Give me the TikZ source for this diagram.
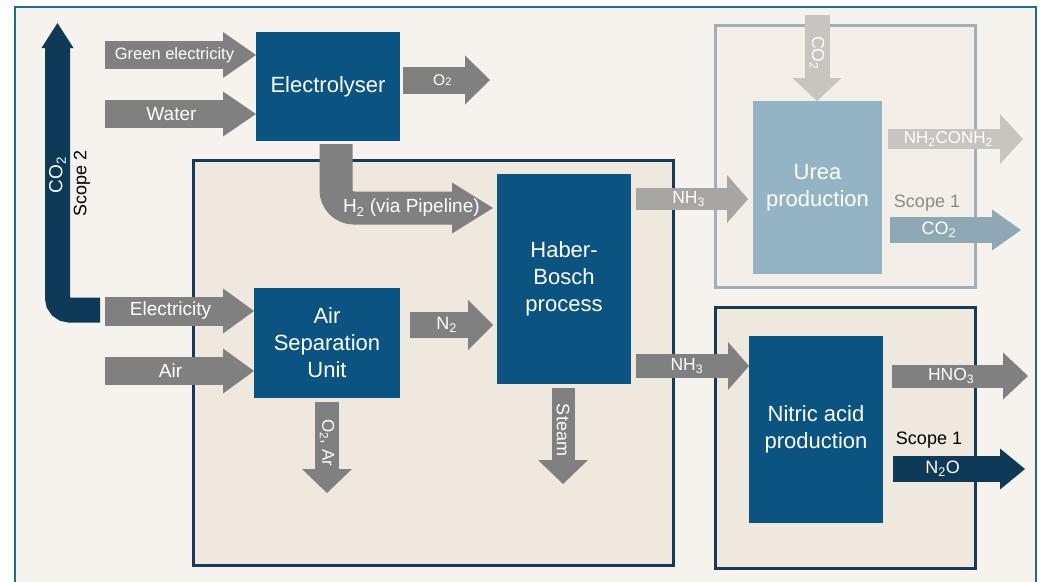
\documentclass[tikz,border=0pt]{standalone}
\usepackage{fontspec}
\setmainfont{Liberation Sans}
\usetikzlibrary{arrows.meta}

\definecolor{bgcream}{HTML}{F6F3EE}
\definecolor{zonecream}{HTML}{EFE8DE}
\definecolor{ureacream}{HTML}{F3EEE8}
\definecolor{procblue}{HTML}{0B5482}
\definecolor{navy}{HTML}{0E3A57}
\definecolor{framecol}{HTML}{1F6C8C}
\definecolor{zoneedge}{HTML}{163A58}
\definecolor{ureaedge}{HTML}{A0B0B8}
\definecolor{ureablue}{HTML}{94B3C4}
\definecolor{flowgray}{HTML}{808080}
\definecolor{nhgray}{HTML}{A8A6A2}
\definecolor{ureagray}{HTML}{C8C5C1}
\definecolor{ureaco}{HTML}{8FA8B6}
\definecolor{scopegray}{HTML}{8A8A8A}

\begin{document}
\begin{tikzpicture}[x=1pt, y=-1pt,
  every node/.style={inner sep=0pt, outer sep=0pt,
    font=\fontsize{18}{21}\selectfont},
  proc/.style={anchor=north west, fill=procblue, text=white, align=center,
    font=\fontsize{22}{27}\selectfont},
  zone/.style={anchor=north west, line width=3pt, draw=zoneedge, fill=zonecream},
  flow/.style n args={4}{draw=#1, line width=#2,
    -{Triangle[width=#3, length=#4, line width=0pt]}},
  lbl/.style={text=white},
  ]

  \useasboundingbox (0,0) rectangle (1057,581);
  \clip (0,0) rectangle (1057,581);
  \fill[white] (0,0) rectangle (1057,581);

  % frame and zones
  \node[anchor=north west, draw=framecol, line width=2pt, fill=bgcream,
    minimum width=1021pt, minimum height=600pt] (frame) at (15,7) {};
  \node[zone, minimum width=480pt, minimum height=405pt] (hbzone) at (193,160) {};
  \node[zone, draw=ureaedge, fill=ureacream, minimum width=260pt,
    minimum height=262pt] (ureazone) at (715,25) {};
  \node[zone, minimum width=260pt, minimum height=261pt] (nitriczone) at (715,307) {};

  % process boxes
  \node[proc, minimum width=144pt, minimum height=109pt] (elec) at (256,32) {Electrolyser};
  \node[proc, minimum width=146pt, minimum height=110pt] (asu) at (254,288) {Air\\Separation\\Unit};
  \node[proc, minimum width=134pt, minimum height=210pt] (hb) at (497,174) {Haber-\\Bosch\\process};
  \node[proc, fill=ureablue, minimum width=129pt, minimum height=173pt] (urea) at (753,101) {Urea\\production};
  \node[proc, minimum width=134pt, minimum height=187pt] (nitric) at (749,336) {Nitric acid\\production};

  % free ends
  \coordinate (greenin) at (105,55);
  \coordinate (waterin) at (105,114);
  \coordinate (o2out) at (490,80);
  \coordinate (h2start) at (336,144);
  \coordinate (h2end) at (493,208);
  \coordinate (co2s2start) at (100,310);
  \coordinate (co2s2end) at (57.5,23);
  \coordinate (elecin) at (105,311);
  \coordinate (airin) at (105,371);
  \coordinate (n2start) at (410,325);
  \coordinate (o2arout) at (327,493);
  \coordinate (steamout) at (563,484);
  \coordinate (nh3a) at (636,199);
  \coordinate (nh3b) at (636,366);
  \coordinate (co2in) at (817,15);
  \coordinate (ureaout) at (1023,139);
  \coordinate (co2out) at (1021,230);
  \coordinate (hno3out) at (1028,376);
  \coordinate (n2oout) at (1025,469);

  % inputs
  \draw[flow={flowgray}{28pt}{46pt}{33pt}] (greenin) -- (elec.west |- greenin)
    node[lbl, pos=.46, font=\fontsize{16.5}{18}\selectfont] {Green electricity};
  \draw[flow={flowgray}{28pt}{45pt}{33pt}] (waterin) -- (elec.west |- waterin)
    node[lbl, pos=.44, font=\fontsize{19}{21}\selectfont] {Water};
  \draw[flow={flowgray}{29pt}{45pt}{31pt}] (elecin) -- (asu.west |- elecin)
    node[lbl, pos=.44, font=\fontsize{19}{21}\selectfont] {Electricity};
  \draw[flow={flowgray}{28pt}{45pt}{31pt}] (airin) -- (asu.west |- airin)
    node[lbl, pos=.44, font=\fontsize{19}{21}\selectfont] {Air};

  % electrolyser
  \draw[flow={flowgray}{27pt}{49pt}{25pt}, shorten <=3pt] (elec.east |- o2out) -- (o2out)
    node[lbl, pos=.47, font=\fontsize{15.5}{17}\selectfont] {O{\fontsize{11}{12}\selectfont 2}};
  \draw[flow={flowgray}{33pt}{51pt}{41pt}, rounded corners=18pt] (h2start) |- (h2end)
    node[lbl, pos=.74, font=\fontsize{19}{21}\selectfont] {H\textsubscript{2} (via Pipeline)};

  % scope 2
  \draw[flow={navy}{25pt}{32pt}{25pt}, rounded corners=12pt] (co2s2start) -| (co2s2end)
    node[lbl, pos=.735, rotate=90, font=\fontsize{19}{21}\selectfont] {CO\textsubscript{2}};
  \node[rotate=90] (scope2) at (82,183) {Scope 2};

  % air separation and Haber-Bosch
  \draw[flow={flowgray}{26pt}{50pt}{25pt}, shorten >=4pt] (n2start) -- (hb.west |- n2start)
    node[lbl, pos=.42] {N\textsubscript{2}};
  \draw[flow={flowgray}{24pt}{50pt}{24pt}, shorten <=4pt] (asu.south -| o2arout) -- (o2arout)
    node[lbl, pos=.47, rotate=-90, font=\fontsize{17}{19}\selectfont] {O\textsubscript{2}, Ar};
  \draw[flow={flowgray}{23pt}{50pt}{24pt}, shorten <=4pt] (hb.south -| steamout) -- (steamout)
    node[lbl, pos=.46, rotate=-90] {Steam};

  % ammonia
  \draw[flow={nhgray}{22pt}{48pt}{21pt}, shorten >=5pt] (nh3a) -- (urea.west |- nh3a)
    node[lbl, pos=.45, font=\fontsize{17.5}{19}\selectfont] {NH\textsubscript{3}};
  \draw[flow={flowgray}{24pt}{48pt}{21pt}] (nh3b) -- (nitric.west |- nh3b)
    node[lbl, pos=.45, font=\fontsize{17.5}{19}\selectfont] {NH\textsubscript{3}};

  % urea
  \draw[flow={ureagray}{25pt}{49pt}{23pt}] (co2in) -- (urea.north -| co2in)
    node[lbl, pos=.44, rotate=-90, font=\fontsize{17.5}{19}\selectfont] {CO\textsubscript{2}};
  \draw[flow={ureagray}{20pt}{50pt}{23pt}, shorten <=6pt] (urea.east |- ureaout) -- (ureaout)
    node[lbl, pos=.47, font=\fontsize{17}{19}\selectfont] {NH\textsubscript{2}CONH\textsubscript{2}};
  \draw[flow={ureaco}{26pt}{41pt}{29pt}, shorten <=8pt] (urea.east |- co2out) -- (co2out)
    node[lbl, pos=.41] {CO\textsubscript{2}};
  \node[text=scopegray] (scope1u) at (927,203) {Scope 1};

  % nitric acid
  \draw[flow={flowgray}{23pt}{47pt}{25pt}, shorten <=9pt] (nitric.east |- hno3out) -- (hno3out)
    node[lbl, pos=.47, font=\fontsize{17.5}{19}\selectfont] {HNO\textsubscript{3}};
  \draw[flow={navy}{26pt}{41pt}{25pt}, shorten <=10pt] (nitric.east |- n2oout) -- (n2oout)
    node[lbl, pos=.42] {N\textsubscript{2}O};
  \node (scope1n) at (929,440) {Scope 1};

\end{tikzpicture}
\end{document}
